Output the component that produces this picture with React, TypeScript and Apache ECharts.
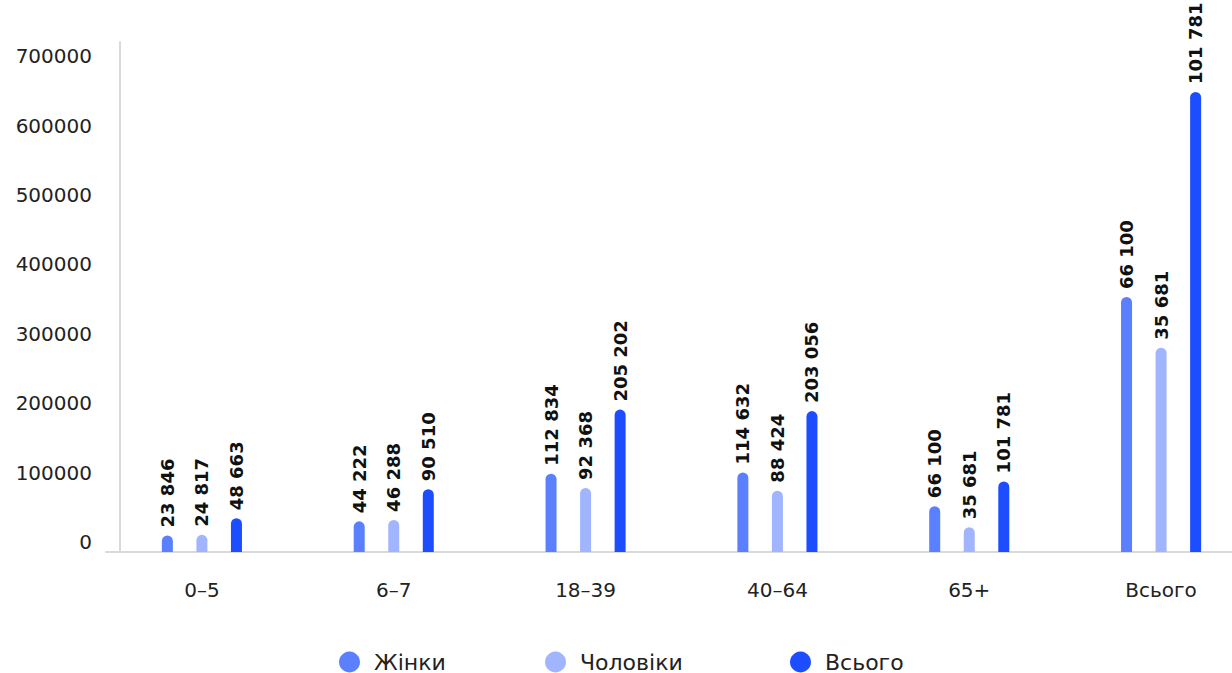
import React, { useEffect, useRef } from "react";
import * as echarts from "echarts";

const categories = ["0–5", "6–7", "18–39", "40–64", "65+", "Всього"];
const seriesNames = ["Жінки", "Чоловіки", "Всього"];
const womenValues = [23846, 44222, 112834, 114632, 66100, 367500];
const menValues = [24817, 46288, 92368, 88424, 35681, 294500];
const totalValues = [48663, 90510, 205202, 203056, 101781, 663000];
const womenLabels = ["23 846", "44 222", "112 834", "114 632", "66 100", "66 100"];
const menLabels = ["24 817", "46 288", "92 368", "88 424", "35 681", "35 681"];
const totalLabels = ["48 663", "90 510", "205 202", "203 056", "101 781", "101 781"];
const colors = ["#5a80ff", "#a1b5ff", "#1c4dff"];
const legendLefts = [339, 545, 790];

const FONT = "DejaVu Sans";

export default function App() {
  const ref = useRef<HTMLDivElement>(null);
  useEffect(() => {
    document.body.style.margin = "0";
    document.body.style.overflow = "hidden";
    document.documentElement.style.overflow = "hidden";
    const chart = echarts.init(ref.current!, null, { renderer: "svg" });
    const values = [womenValues, menValues, totalValues];
    const labels = [womenLabels, menLabels, totalLabels];
    chart.setOption({
      animation: false,
      backgroundColor: "#ffffff",
      textStyle: { fontFamily: FONT },
      grid: { left: 106, right: 0, top: 42, bottom: 121, containLabel: false },
      legend: seriesNames.map((name, i) => ({
        left: legendLefts[i],
        top: 651,
        padding: 0,
        icon: "circle",
        itemWidth: 21,
        itemHeight: 21,
        textStyle: {
          fontFamily: FONT,
          fontSize: 22,
          lineHeight: 22,
          color: "#222",
          padding: [0, 0, 0, 9],
        },
        data: [name],
      })),
      xAxis: {
        type: "category",
        data: categories,
        axisLine: { show: true, lineStyle: { color: "#d9d9d9", width: 2 } },
        axisTick: { show: false },
        axisLabel: { margin: 28, fontFamily: FONT, fontSize: 20, color: "#222" },
      },
      yAxis: {
        type: "value",
        min: 0,
        max: 735000,
        interval: 100000,
        offset: -14,
        axisLine: { show: true, lineStyle: { color: "#d9d9d9", width: 2 } },
        axisTick: { show: false },
        splitLine: { show: false },
        axisLabel: {
          margin: 28,
          showMaxLabel: false,
          verticalAlign: "bottom",
          fontFamily: FONT,
          fontSize: 20,
          color: "#222",
          formatter: (v: number) => String(v),
        },
      },
      series: seriesNames.map((name, si) => ({
        name,
        type: "bar",
        data: values[si],
        barWidth: 11,
        barGap: "214%",
        itemStyle: { color: colors[si], borderRadius: [5.5, 5.5, 0, 0] },
        label: {
          show: true,
          position: "top",
          rotate: 90,
          align: "left",
          verticalAlign: "middle",
          distance: 8,
          fontFamily: FONT,
          fontWeight: "bold",
          fontSize: 18,
          color: "#111",
          formatter: (p: any) => labels[si][p.dataIndex],
        },
      })),
    });
    return () => chart.dispose();
  }, []);
  return <div ref={ref} style={{ width: 1257, height: 673 }} />;
}
